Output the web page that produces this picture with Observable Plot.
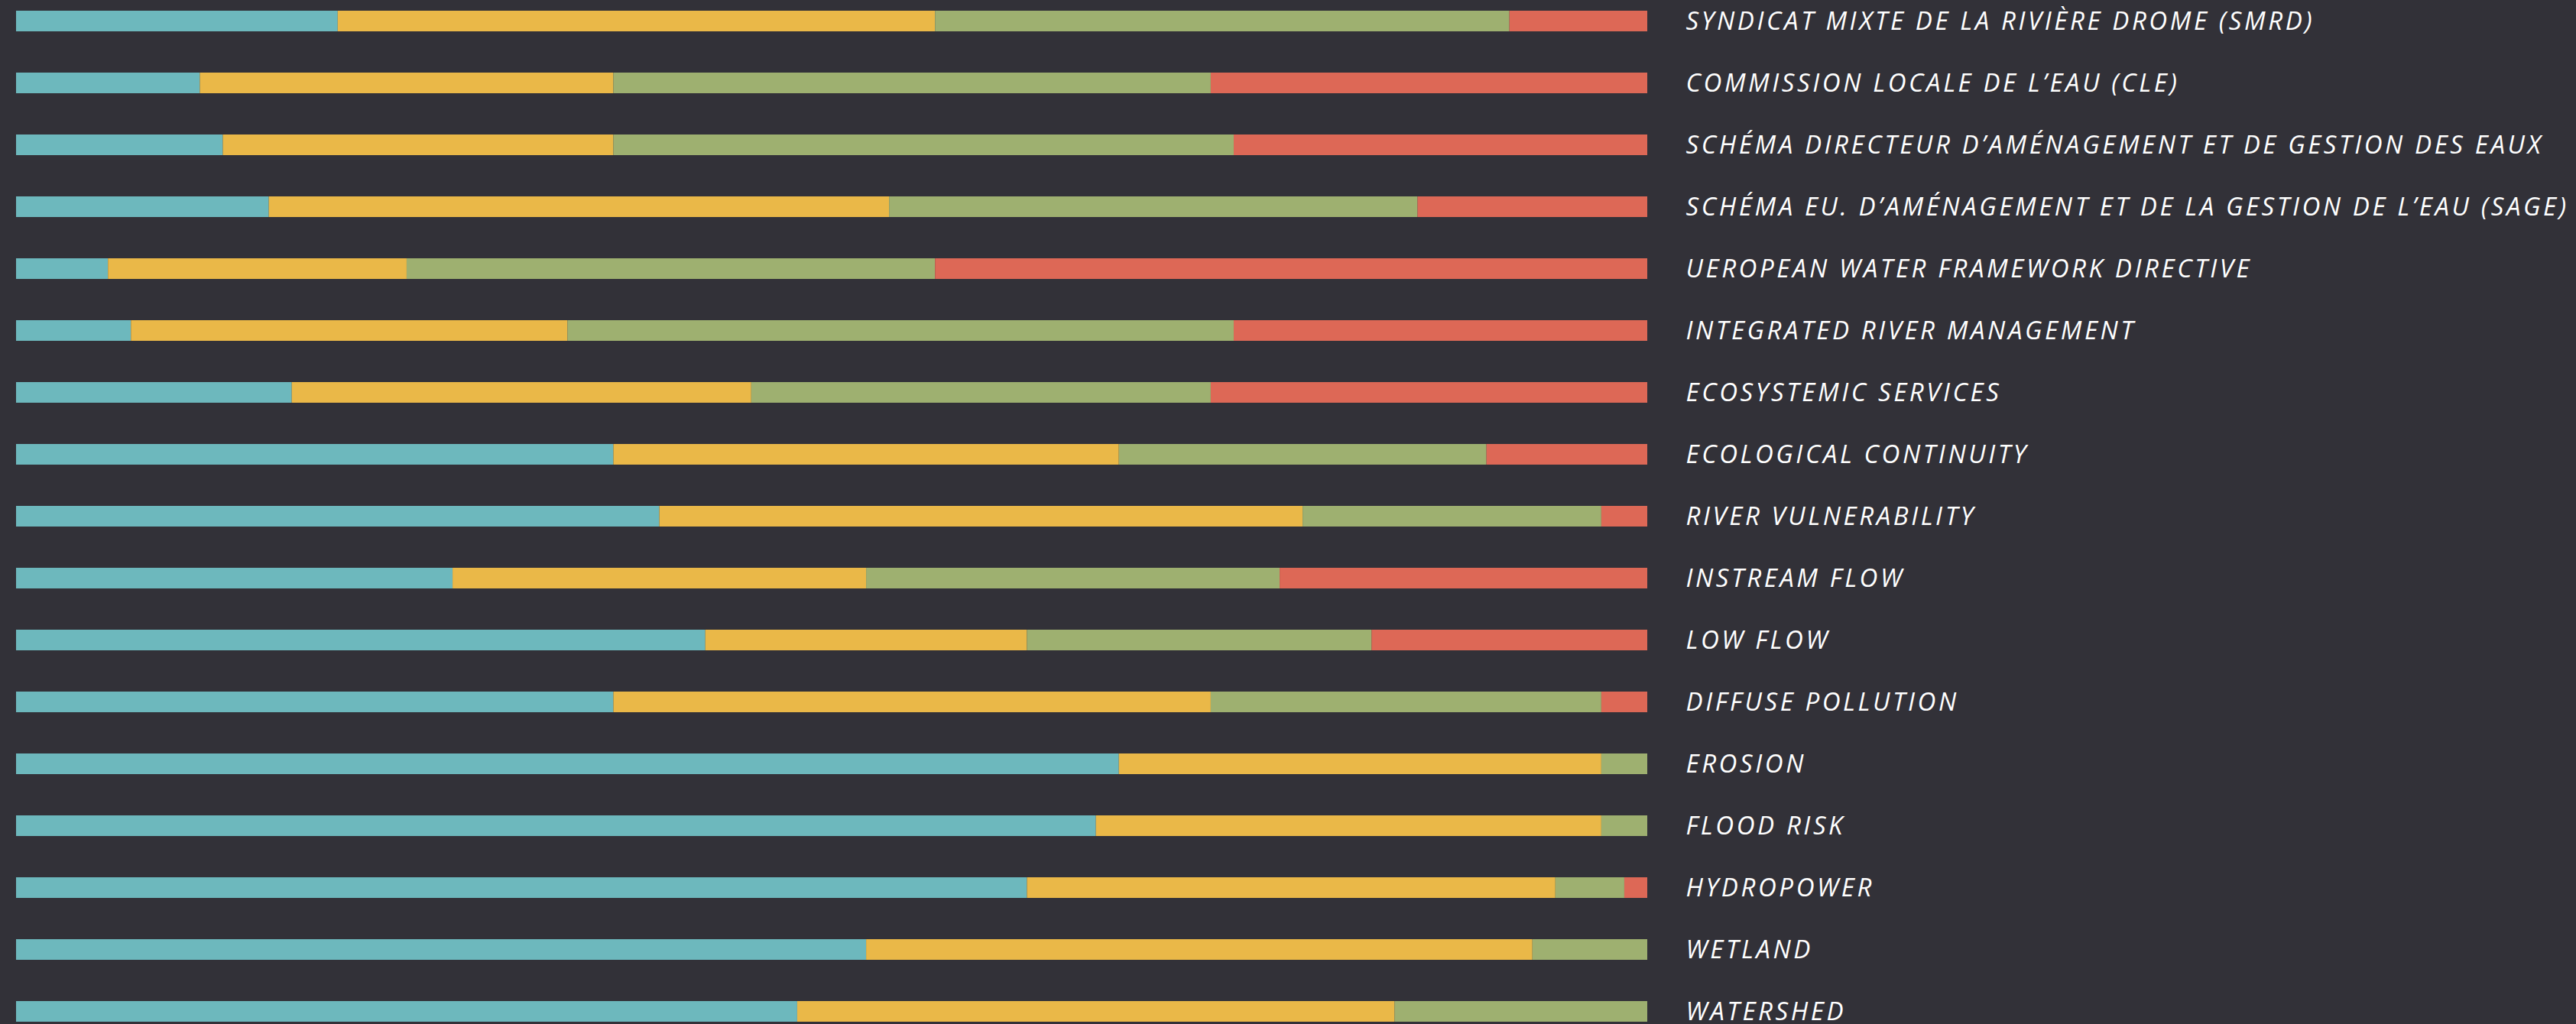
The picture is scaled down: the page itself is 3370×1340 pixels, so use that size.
<!DOCTYPE html>
<html>
<head>
<meta charset="utf-8">
<script src="https://cdn.jsdelivr.net/npm/d3@7"></script>
<script src="https://cdn.jsdelivr.net/npm/@observablehq/plot@0.6"></script>
<style>
  html, body { margin: 0; padding: 0; background: #323138; }
  #chart { width: 3370px; height: 1340px; }
</style>
</head>
<body>
<div id="chart"></div>
<script>
const categories = [
  "SYNDICAT MIXTE DE LA RIVIÈRE DROME (SMRD)",
  "COMMISSION LOCALE DE L’EAU (CLE)",
  "SCHÉMA DIRECTEUR D’AMÉNAGEMENT ET DE GESTION DES EAUX",
  "SCHÉMA EU. D’AMÉNAGEMENT ET DE LA GESTION DE L’EAU (SAGE)",
  "UEROPEAN WATER FRAMEWORK DIRECTIVE",
  "INTEGRATED RIVER MANAGEMENT",
  "ECOSYSTEMIC SERVICES",
  "ECOLOGICAL CONTINUITY",
  "RIVER VULNERABILITY",
  "INSTREAM FLOW",
  "LOW FLOW",
  "DIFFUSE POLLUTION",
  "EROSION",
  "FLOOD RISK",
  "HYDROPOWER",
  "WETLAND",
  "WATERSHED"
];
const levels = ["Level 1", "Level 2", "Level 3", "Level 4"];
const level1 = [14, 8, 9, 11, 4, 5, 12, 26, 28, 19, 30, 26, 48, 47, 44, 37, 34];
const level2 = [26, 18, 17, 27, 13, 19, 20, 22, 28, 18, 14, 26, 21, 22, 23, 29, 26];
const level3 = [25, 26, 27, 23, 23, 29, 20, 16, 13, 18, 15, 17, 2, 2, 3, 5, 11];
const level4 = [6, 19, 18, 10, 31, 18, 19, 7, 2, 16, 12, 2, 0, 0, 1, 0, 0];
const colors = ["#6db8bd", "#eab848", "#9eb070", "#dd6856"];

const series = [level1, level2, level3, level4];
const table = [];
categories.forEach((c, i) => {
  levels.forEach((l, j) => {
    table.push({category: c, level: l, value: series[j][i]});
  });
});
const total = d3.max(categories.map((c, i) => series.reduce((s, a) => s + a[i], 0)));

const chart = Plot.plot({
  width: 3370,
  height: 1340,
  marginLeft: 21,
  marginRight: 1215,
  marginTop: 14,
  marginBottom: 3,
  style: {background: "#323138", fontFamily: "'Open Sans', sans-serif", color: "#ffffff", letterSpacing: "3.6px"},
  x: {domain: [0, total], axis: null},
  y: {domain: categories, paddingInner: 0.6667, paddingOuter: 0, align: 0.5},
  color: {domain: levels, range: colors},
  marks: [
    Plot.barX(table, {x: "value", y: "category", fill: "level", order: levels}),
    Plot.axisY({anchor: "right", tickSize: 0, tickPadding: 50, label: null,
      fontSize: 33, fontStyle: "italic", fontWeight: 400, fill: "#ffffff"})
  ]
});
document.getElementById("chart").appendChild(chart);
</script>
</body>
</html>
